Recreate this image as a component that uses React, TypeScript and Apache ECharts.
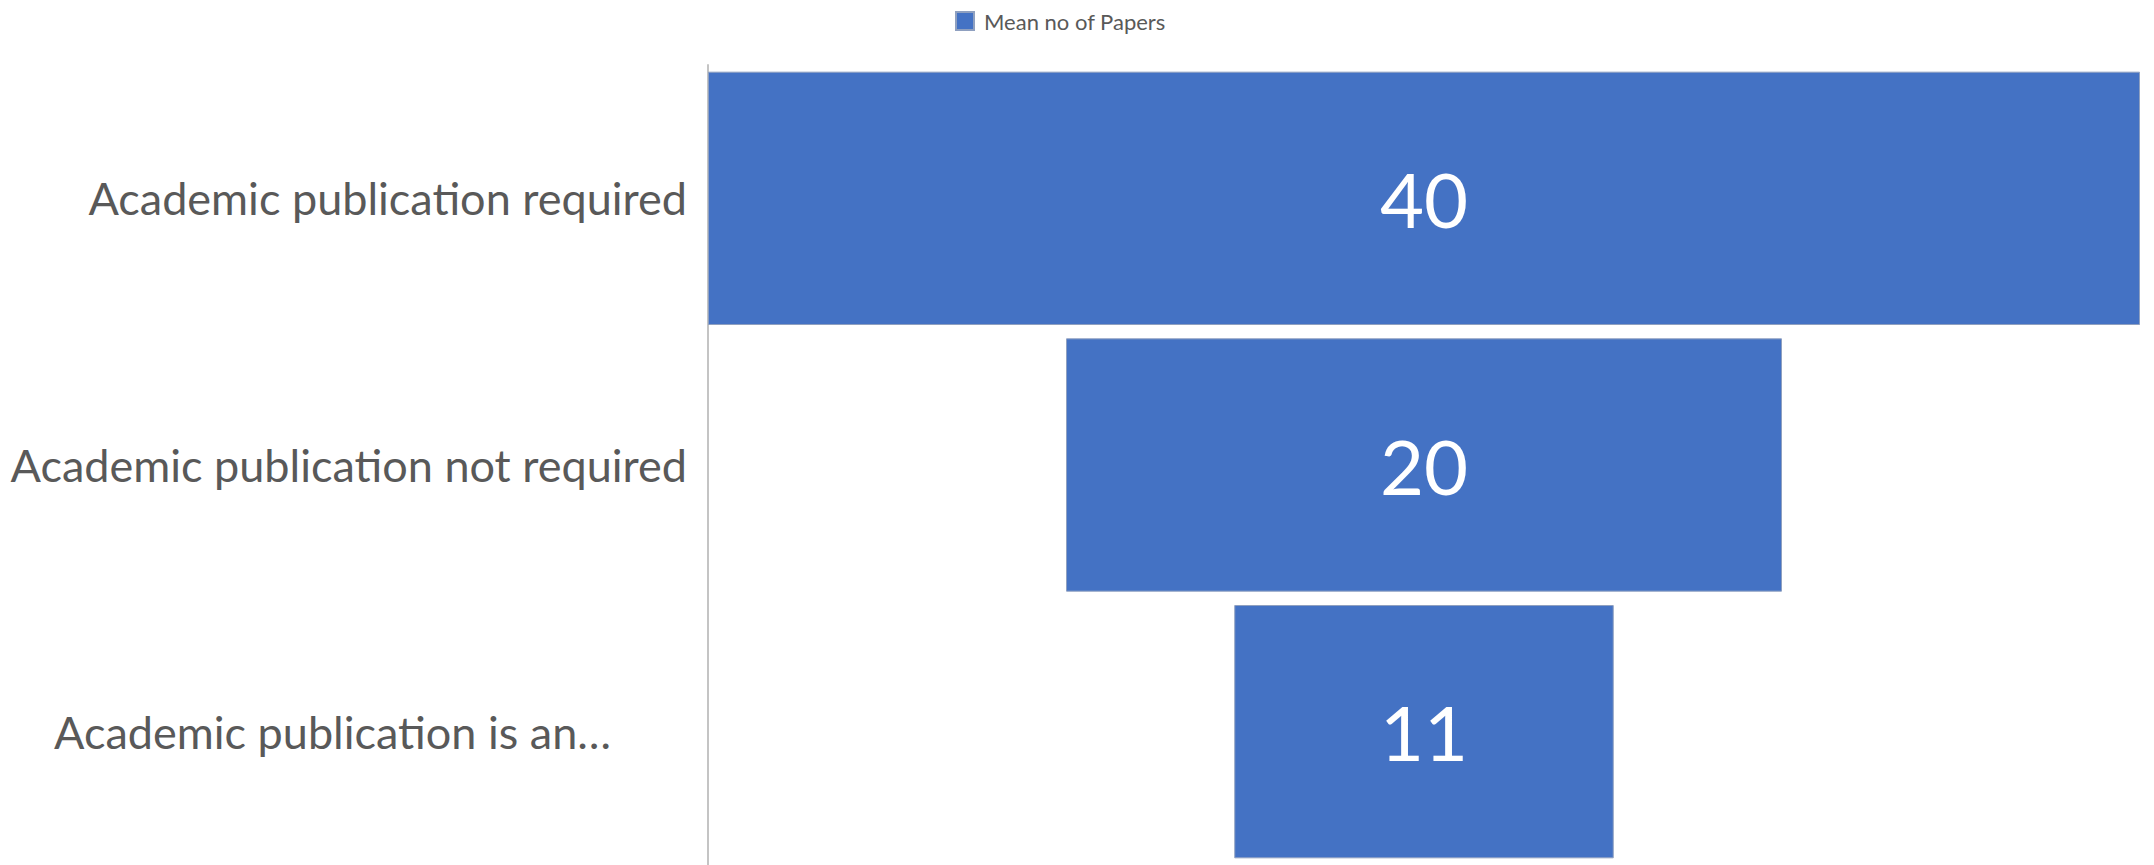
import React, { useEffect, useRef } from "react";
import * as echarts from "echarts";

const categories = [
  "Academic publication required",
  "Academic publication not required",
  "Academic publication is an…",
];
const meanPapers = [40, 20, 10.6];
const seriesName = "Mean no of Papers";
const axisMax = 40;

export default function App() {
  const ref = useRef<HTMLDivElement>(null);
  useEffect(() => {
    if (!ref.current) return;
    const chart = echarts.init(ref.current, null, { renderer: "svg" });
    const offsets = meanPapers.map((v) => (axisMax - v) / 2);
    chart.setOption({
      animation: false,
      backgroundColor: "#ffffff",
      textStyle: { fontFamily: "Lato" },
      legend: {
        data: [seriesName],
        top: 5,
        left: 950,
        icon: "rect",
        itemWidth: 18,
        itemHeight: 18,
        itemGap: 10,
        textStyle: { fontSize: 22, color: "#595959", fontFamily: "Lato", padding: [0, 0, 0, 5] },
      },
      grid: { left: 708, top: 65, width: 1432, height: 800 },
      xAxis: { type: "value", min: 0, max: axisMax, show: false },
      yAxis: {
        type: "category",
        data: categories,
        inverse: true,
        axisTick: { show: false },
        axisLine: { show: true, lineStyle: { color: "#c4c4c4", width: 2 } },
        axisLabel: {
          fontSize: 45,
          color: "#595959",
          margin: 21,
          fontFamily: "Lato",
          formatter: (value: string, idx: number) =>
            value.endsWith("…") ? `{t|${value}}` : value,
          rich: {
            t: {
              fontSize: 45,
              color: "#595959",
              fontFamily: "Lato",
              padding: [0, 76, 0, 0],
            },
          },
        },
      },
      series: [
        {
          name: "offset",
          type: "bar",
          stack: "f",
          data: offsets,
          itemStyle: { color: "transparent" },
          barCategoryGap: "5%",
          silent: true,
        },
        {
          name: seriesName,
          type: "bar",
          stack: "f",
          data: meanPapers,
          barCategoryGap: "5%",
          itemStyle: { color: "#4472C4", borderColor: "#8fa0c0", borderWidth: 1 },
          label: {
            show: true,
            position: "inside",
            color: "#ffffff",
            fontSize: 76,
            fontFamily: "Lato",
            formatter: (p: any) => String(Math.round(p.value)),
          },
        },
      ],
    });
    return () => chart.dispose();
  }, []);
  return (
    <div
      ref={ref}
      style={{ position: "fixed", left: 0, top: 0, width: 2154, height: 865 }}
    />
  );
}
